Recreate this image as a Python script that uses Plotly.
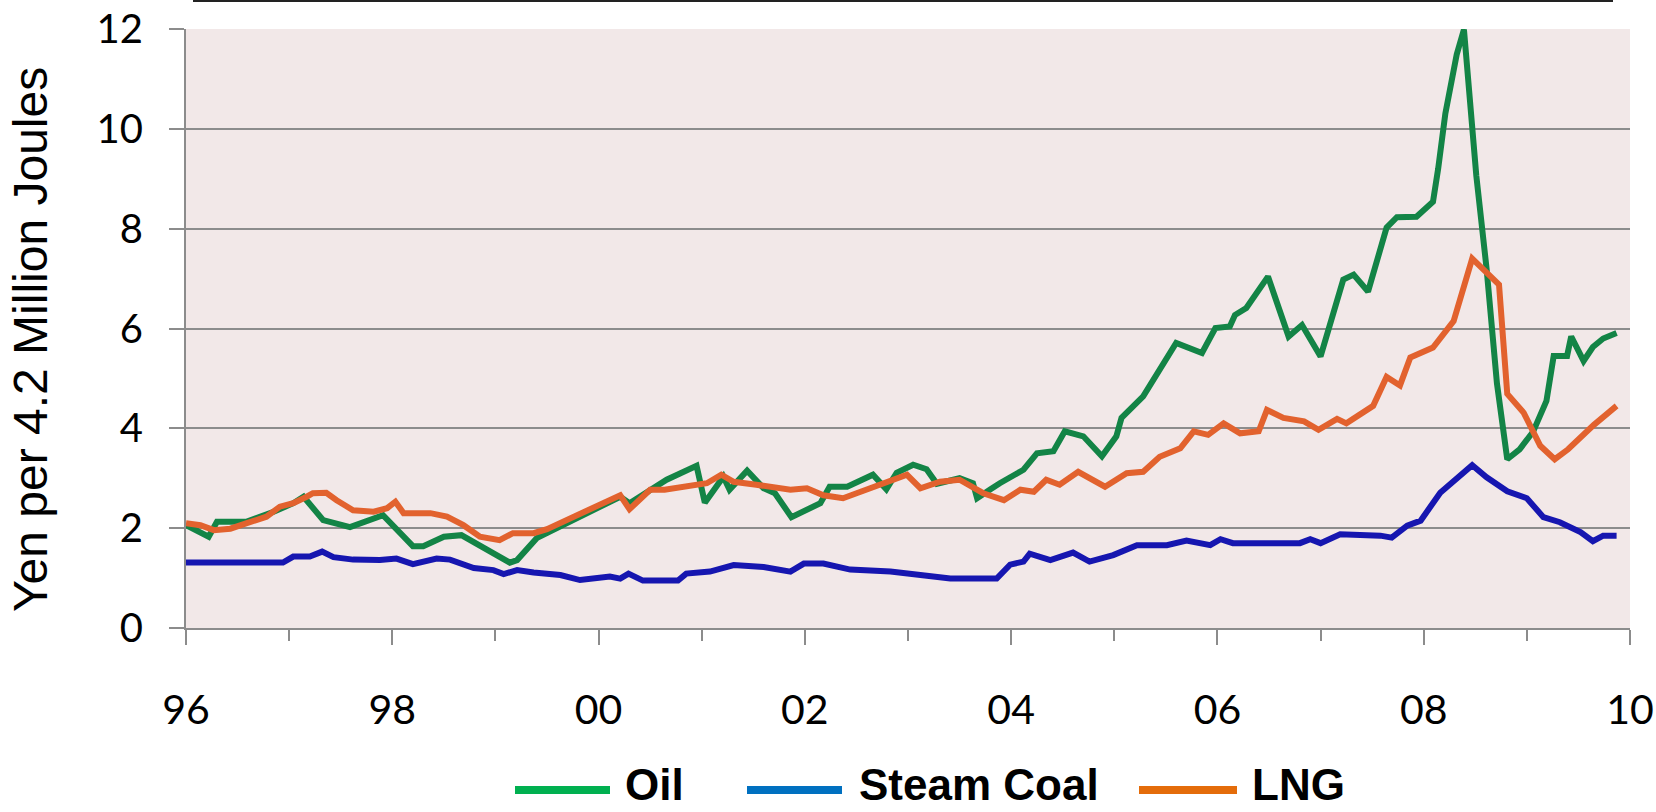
import plotly.graph_objects as go

# ---------------- data ----------------
oil_x = [1996.00, 1996.22, 1996.30, 1996.59, 1996.85, 1997.04, 1997.14, 1997.33, 1997.59, 1997.91,
         1998.20, 1998.30, 1998.50, 1998.67, 1999.14, 1999.21, 1999.40, 2000.11, 2000.21, 2000.30,
         2000.50, 2000.66, 2000.95, 2001.03, 2001.21, 2001.27, 2001.44, 2001.60, 2001.71, 2001.87,
         2002.15, 2002.24, 2002.41, 2002.66, 2002.79, 2002.89, 2003.05, 2003.18, 2003.28, 2003.50,
         2003.63, 2003.67, 2003.80, 2003.89, 2004.12, 2004.25, 2004.41, 2004.52, 2004.70, 2004.88,
         2005.02, 2005.07, 2005.28, 2005.60, 2005.85, 2005.98, 2006.12, 2006.17, 2006.28, 2006.49,
         2006.69, 2006.82, 2007.00, 2007.09, 2007.22, 2007.32, 2007.46, 2007.64, 2007.74, 2007.93,
         2008.09, 2008.14, 2008.21, 2008.32, 2008.39, 2008.51, 2008.61, 2008.71, 2008.81, 2008.93,
         2009.06, 2009.19, 2009.26, 2009.39, 2009.43, 2009.55, 2009.64, 2009.74, 2009.87]
oil_y = [2.06, 1.83, 2.13, 2.13, 2.33, 2.50, 2.63, 2.16, 2.02, 2.26,
         1.64, 1.64, 1.83, 1.86, 1.31, 1.36, 1.80, 2.55, 2.63, 2.50,
         2.77, 2.97, 3.25, 2.51, 3.03, 2.77, 3.15, 2.80, 2.70, 2.22,
         2.50, 2.83, 2.83, 3.07, 2.78, 3.11, 3.27, 3.18, 2.89, 3.00,
         2.90, 2.60, 2.78, 2.90, 3.17, 3.50, 3.54, 3.94, 3.84, 3.44,
         3.84, 4.21, 4.64, 5.71, 5.51, 6.01, 6.04, 6.27, 6.41, 7.04,
         5.84, 6.07, 5.44, 6.08, 6.98, 7.08, 6.74, 8.02, 8.23, 8.24,
         8.54, 9.20, 10.31, 11.49, 11.99, 9.06, 7.19, 4.90, 3.38, 3.58,
         3.93, 4.55, 5.45, 5.45, 5.84, 5.35, 5.63, 5.80, 5.91]

coal_x = [1996.00, 1996.94, 1997.04, 1997.20, 1997.32, 1997.43, 1997.62, 1997.88, 1998.04, 1998.20,
          1998.43, 1998.56, 1998.79, 1998.98, 1999.08, 1999.21, 1999.37, 1999.63, 1999.82, 2000.11,
          2000.21, 2000.29, 2000.43, 2000.77, 2000.85, 2001.08, 2001.31, 2001.60, 2001.86, 2001.99,
          2002.18, 2002.44, 2002.83, 2003.09, 2003.41, 2003.86, 2003.99, 2004.12, 2004.18, 2004.38,
          2004.60, 2004.76, 2004.99, 2005.22, 2005.51, 2005.70, 2005.93, 2006.03, 2006.15, 2006.80,
          2006.90, 2007.00, 2007.19, 2007.58, 2007.69, 2007.84, 2007.97, 2008.16, 2008.29, 2008.47,
          2008.61, 2008.81, 2009.00, 2009.16, 2009.32, 2009.52, 2009.64, 2009.74, 2009.87]
coal_y = [1.31, 1.31, 1.43, 1.43, 1.53, 1.42, 1.37, 1.36, 1.39, 1.28,
          1.39, 1.37, 1.20, 1.16, 1.08, 1.16, 1.11, 1.06, 0.96, 1.03,
          0.99, 1.09, 0.95, 0.95, 1.09, 1.13, 1.26, 1.22, 1.13, 1.29,
          1.29, 1.17, 1.13, 1.06, 0.99, 0.99, 1.27, 1.33, 1.49, 1.36,
          1.51, 1.33, 1.46, 1.66, 1.66, 1.75, 1.66, 1.78, 1.70, 1.70,
          1.78, 1.70, 1.88, 1.85, 1.81, 2.05, 2.15, 2.71, 2.95, 3.26,
          3.02, 2.74, 2.60, 2.22, 2.12, 1.92, 1.74, 1.85, 1.85]

lng_x = [1996.00, 1996.14, 1996.27, 1996.43, 1996.59, 1996.78, 1996.91, 1997.04, 1997.17, 1997.23,
         1997.36, 1997.46, 1997.62, 1997.82, 1997.95, 1998.03, 1998.11, 1998.37, 1998.53, 1998.69,
         1998.85, 1999.04, 1999.17, 1999.37, 1999.50, 2000.11, 2000.21, 2000.30, 2000.50, 2000.64,
         2000.89, 2001.05, 2001.19, 2001.31, 2001.53, 2001.86, 2002.02, 2002.18, 2002.37, 2002.66,
         2002.99, 2003.12, 2003.31, 2003.50, 2003.73, 2003.93, 2004.09, 2004.22, 2004.34, 2004.47,
         2004.65, 2004.91, 2005.12, 2005.28, 2005.44, 2005.64, 2005.77, 2005.91, 2006.06, 2006.22,
         2006.40, 2006.48, 2006.64, 2006.84, 2006.98, 2007.16, 2007.25, 2007.51, 2007.64, 2007.77,
         2007.87, 2008.09, 2008.29, 2008.47, 2008.58, 2008.73, 2008.81, 2008.97, 2009.13, 2009.27,
         2009.40, 2009.65, 2009.87]
lng_y = [2.10, 2.06, 1.96, 1.99, 2.10, 2.23, 2.43, 2.50, 2.63, 2.70,
         2.71, 2.56, 2.36, 2.33, 2.40, 2.53, 2.30, 2.30, 2.23, 2.06,
         1.83, 1.76, 1.90, 1.90, 1.98, 2.55, 2.66, 2.38, 2.77, 2.77,
         2.84, 2.90, 3.07, 2.93, 2.87, 2.77, 2.80, 2.66, 2.60, 2.83,
         3.07, 2.80, 2.93, 2.97, 2.70, 2.56, 2.77, 2.73, 2.97, 2.87,
         3.13, 2.83, 3.10, 3.13, 3.43, 3.60, 3.94, 3.87, 4.10, 3.90,
         3.94, 4.37, 4.21, 4.14, 3.97, 4.19, 4.10, 4.45, 5.03, 4.86,
         5.42, 5.62, 6.15, 7.40, 7.19, 6.88, 4.69, 4.31, 3.65, 3.38,
         3.58, 4.07, 4.45]

tick_years = [1996, 1998, 2000, 2002, 2004, 2006, 2008, 2010]
tick_labels = ["96", "98", "00", "02", "04", "06", "08", "10"]
y_ticks = [0, 2, 4, 6, 8, 10, 12]

series_names = ["Oil", "Steam Coal", "LNG"]
line_colors = ["#138446", "#1616B0", "#E2622E"]
legend_colors = ["#00B050", "#0070C0", "#E46C0A"]

# ---------------- figure ----------------
W, H = 1656, 812
ML, MR, MT, MB = 186, 26, 29, 184
PW, PH = W - ML - MR, H - MT - MB

def px_x(px):
    return (px - ML) / PW

def px_y(py):
    return (H - MB - py) / PH

fig = go.Figure()
for name, xs, ys, col in [("Oil", oil_x, oil_y, line_colors[0]),
                          ("Steam Coal", coal_x, coal_y, line_colors[1]),
                          ("LNG", lng_x, lng_y, line_colors[2])]:
    fig.add_trace(go.Scatter(x=xs, y=ys, mode="lines", name=name,
                             line=dict(color=col, width=6, shape="linear"),
                             showlegend=False, hoverinfo="skip"))

axis_gray = "#8C8C8C"
fig.update_xaxes(range=[1996, 2010], tickvals=tick_years, ticktext=tick_labels,
                 automargin=False, showgrid=False, zeroline=False,
                 showline=True, linecolor=axis_gray, linewidth=2,
                 ticks="outside", ticklen=15, tickwidth=2, tickcolor=axis_gray,
                 minor=dict(dtick=1, tick0=1996, ticks="outside", ticklen=11,
                            tickwidth=2, tickcolor=axis_gray, showgrid=False),
                 tickfont=dict(family="Lato, Liberation Sans, sans-serif", size=41, color="#000000"),
                 ticklabelstandoff=30)
fig.update_yaxes(range=[0, 12], tickvals=y_ticks, automargin=False,
                 showgrid=True, gridcolor=axis_gray, gridwidth=2, zeroline=False,
                 showline=True, linecolor=axis_gray, linewidth=2,
                 ticks="outside", ticklen=15, tickwidth=2, tickcolor=axis_gray,
                 tickfont=dict(family="Lato, Liberation Sans, sans-serif", size=40, color="#000000"),
                 ticklabelstandoff=18)

shapes = []
# top rounded box edge
shapes.append(dict(type="line", xref="paper", yref="paper",
                   x0=px_x(193), x1=px_x(1613), y0=px_y(1.0), y1=px_y(1.0),
                   line=dict(color="#222222", width=2)))
annotations = []
# manual legend
leg_line = [(515, 610), (747, 842), (1139, 1237)]
leg_text_x = [623, 857, 1250]
for name, col, (a, b), tx in zip(series_names, legend_colors, leg_line, leg_text_x):
    shapes.append(dict(type="line", xref="paper", yref="paper",
                       x0=px_x(a), x1=px_x(b), y0=px_y(790), y1=px_y(790),
                       line=dict(color=col, width=8)))
    annotations.append(dict(xref="paper", yref="paper", x=px_x(tx), y=px_y(784),
                            xanchor="left", yanchor="middle", showarrow=False,
                            text="<b>" + name + "</b>",
                            font=dict(family="Liberation Sans, Arial, sans-serif", size=44, color="#000000")))
# y axis title
annotations.append(dict(xref="paper", yref="paper", x=px_x(31), y=px_y(340),
                        xanchor="center", yanchor="middle", showarrow=False, textangle=-90,
                        text="Yen per 4.2 Million Joules",
                        font=dict(family="Liberation Sans, Arial, sans-serif", size=48, color="#000000")))

fig.update_layout(width=W, height=H, autosize=False,
                  margin=dict(l=ML, r=MR, t=MT, b=MB, pad=0),
                  paper_bgcolor="#FFFFFF", plot_bgcolor="#F2E8E8",
                  shapes=shapes, annotations=annotations, showlegend=False)

fig.write_html("out.html", config={"displayModeBar": False},
               post_script="document.body.style.margin='0';document.body.style.overflow='hidden';")
